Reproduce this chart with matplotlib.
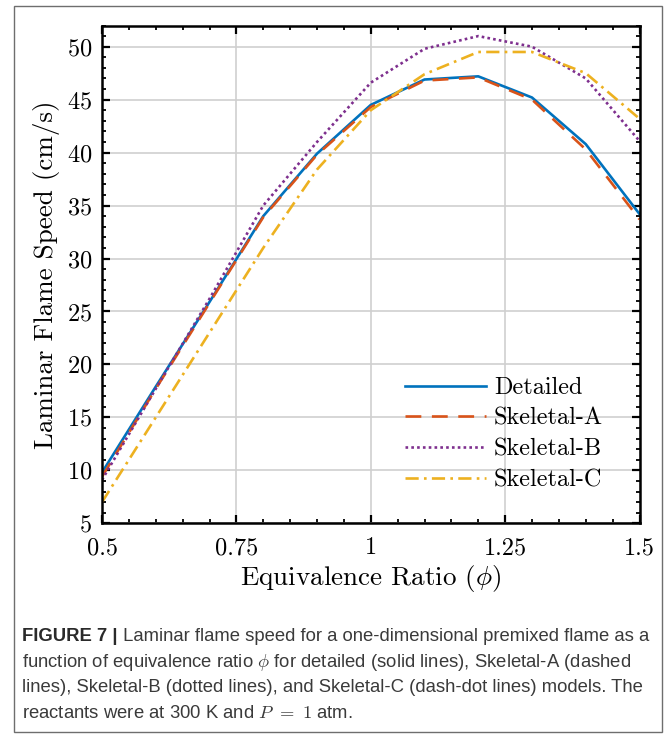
import matplotlib
matplotlib.use('Agg')
import matplotlib.pyplot as plt
from matplotlib.patches import Rectangle
from matplotlib.ticker import MultipleLocator

plt.rcParams['font.family'] = 'serif'
plt.rcParams['font.serif'] = ['cmr10']
plt.rcParams['mathtext.fontset'] = 'cm'
plt.rcParams['axes.formatter.use_mathtext'] = True

# data
phi = [0.5, 0.6, 0.7, 0.8, 0.9, 1.0, 1.1, 1.2, 1.3, 1.4, 1.5]
detailed = [9.8, 17.9, 25.9, 34.0, 39.9, 44.5, 46.9, 47.2, 45.2, 40.8, 34.2]
skeletal_a = [9.4, 17.7, 25.8, 33.9, 39.8, 44.3, 46.8, 47.1, 45.0, 40.3, 33.7]
skeletal_b = [9.1, 17.7, 26.2, 35.0, 41.0, 46.6, 49.8, 51.0, 50.0, 47.0, 41.1]
skeletal_c = [7.0, 15.0, 23.0, 31.0, 38.4, 44.0, 47.4, 49.5, 49.5, 47.5, 43.2]

xticks = [0.5, 0.75, 1.0, 1.25, 1.5]
xticklabels = ['0.5', '0.75', '1', '1.25', '1.5']
yticks = [5, 10, 15, 20, 25, 30, 35, 40, 45, 50]

caption = [
    ' Laminar flame speed for a one-dimensional premixed flame as a',
    r'function of equivalence ratio $\phi$ for detailed (solid lines), Skeletal-A (dashed',
    'lines), Skeletal-B (dotted lines), and Skeletal-C (dash-dot lines) models. The',
    r'reactants were at 300 K and $P\ =\ 1$ atm.',
]

W, H = 672, 734
fig = plt.figure(figsize=(W / 100, H / 100), dpi=100)
ax = fig.add_axes([102 / W, 1 - 523.3 / H, (639.5 - 102) / W, (523.3 - 25.5) / H])

ax.plot(phi, detailed, color='#0072BD', lw=1.9, label='Detailed')
ax.plot(phi, skeletal_a, color='#D95319', lw=1.9, dashes=(6, 4), label='Skeletal-A')
ax.plot(phi, skeletal_b, color='#7E2F8E', lw=1.9, dashes=(1, 1.2), label='Skeletal-B')
ax.plot(phi, skeletal_c, color='#EDB120', lw=1.9, dashes=(5, 2, 1, 2), label='Skeletal-C')

ax.set_xlim(0.5, 1.5)
ax.set_ylim(5, 52)
ax.set_xticks(xticks)
ax.set_xticklabels(xticklabels)
ax.set_yticks(yticks)
ax.xaxis.set_minor_locator(MultipleLocator(0.05))
ax.yaxis.set_minor_locator(MultipleLocator(1))
ax.tick_params(which='both', direction='in', top=True, right=True, labelsize=17.5, pad=7)
ax.tick_params(axis='x', which='major', pad=10)
ax.tick_params(which='major', length=6, width=1.6)
ax.tick_params(which='minor', length=3, width=1.3)
for s in ax.spines.values():
    s.set_linewidth(1.8)
ax.grid(True, which='major', color='#cfcfcf', lw=1.2)
ax.set_axisbelow(True)

ax.set_xlabel(r'Equivalence Ratio ($\phi$)', fontsize=19.5, labelpad=3)
ax.set_ylabel('Laminar Flame Speed (cm/s)', fontsize=19.5, labelpad=5)

leg = ax.legend(loc='lower right', bbox_to_anchor=(0.955, 0.04), frameon=False,
                fontsize=17.5, handlelength=3.3, handletextpad=0.35, labelspacing=0.35,
                borderpad=0)

# outer frame
fig.patches.append(Rectangle((14 / W, 1 - 731.7 / H), (661.5 - 14) / W, (731.7 - 6) / H,
                             transform=fig.transFigure, fill=False, ec='#6e6e6e', lw=1.0))

# caption
ys = [636.7, 662.5, 688, 713]
x0 = 22 / W
fs = 13.3
r = fig.canvas.get_renderer()
t = fig.text(x0, 1 - ys[0] / H, 'FIGURE 7 |', family='Liberation Sans', weight='bold',
             fontsize=fs, va='center', color='#2a2a2a')
bb = t.get_window_extent(renderer=r)
fig.text(bb.x1 / W, 1 - ys[0] / H, caption[0], family='Liberation Sans', fontsize=fs,
         va='center', color='#3a3a3a')
for line, y in zip(caption[1:], ys[1:]):
    fig.text(x0, 1 - y / H, line, family='Liberation Sans', fontsize=fs, va='center',
             color='#3a3a3a')

fig.savefig('out.png', dpi=100)
